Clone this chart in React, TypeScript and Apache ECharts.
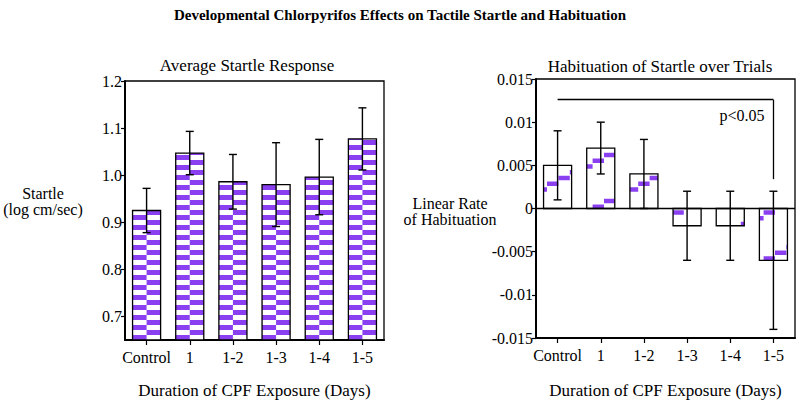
import React, { useEffect, useRef } from "react";
import * as echarts from "echarts";

const categories = ["Control", "1", "1-2", "1-3", "1-4", "1-5"];
const startleMean = [0.925, 1.047, 0.986, 0.98, 0.996, 1.077];
const startleErr = [0.047, 0.046, 0.058, 0.089, 0.08, 0.066];
const startleTicks = [0.7, 0.8, 0.9, 1.0, 1.1, 1.2];
const habitMean = [0.005, 0.007, 0.004, -0.002, -0.002, -0.006];
const habitErr = [0.004, 0.003, 0.004, 0.004, 0.004, 0.008];
const sigBracket = { from: "Control", to: "1-5", y: 0.0126, drop: 0.0034, label: "p<0.05" };

const PURPLE = "#8a3ff0";
const FONT = "Liberation Serif, Times New Roman, DejaVu Serif, serif";

function rowsData(mean: number[], err: number[]) {
  return mean.map((m, i) => [i, m, m - err[i], m + err[i]]);
}

function errChildren(api: any, x: number) {
  const lo = api.coord([x, api.value(2)]);
  const hi = api.coord([x, api.value(3)]);
  const cap = 4;
  const style = { stroke: "#000", lineWidth: 1.4 };
  return [
    { type: "line", shape: { x1: hi[0], y1: hi[1], x2: lo[0], y2: lo[1] }, style },
    { type: "line", shape: { x1: hi[0] - cap, y1: hi[1], x2: hi[0] + cap, y2: hi[1] }, style },
    { type: "line", shape: { x1: lo[0] - cap, y1: lo[1], x2: lo[0] + cap, y2: lo[1] }, style },
  ];
}

// left chart: checkerboard bars from the bottom of the plot
function startleRender(params: any, api: any) {
  const cs = params.coordSys;
  const i = api.value(0);
  const top = api.coord([i, api.value(1)]);
  const w = api.size([1, 0])[0] * 0.65;
  const xL = top[0] - w / 2;
  const yT = top[1];
  const yB = cs.y + cs.height;
  const children: any[] = [
    { type: "rect", shape: { x: xL, y: yT, width: w, height: yB - yT }, style: { fill: "#fff" } },
  ];
  const rowH = 5;
  const colW = w / 2;
  for (let r = 0; yB - r * rowH > yT; r++) {
    const y2 = yB - r * rowH;
    const y1 = Math.max(yT, y2 - rowH);
    const col = r % 2;
    children.push({
      type: "rect",
      shape: { x: xL + col * colW, y: y1, width: colW, height: y2 - y1 },
      style: { fill: PURPLE },
    });
  }
  children.push({
    type: "rect",
    shape: { x: xL, y: yT, width: w, height: yB - yT },
    style: { fill: "none", stroke: "#000", lineWidth: 1.3 },
  });
  children.push(...errChildren(api, i));
  return { type: "group", children };
}

// right chart: sparse staircase texture, bars from zero
function habitRender(params: any, api: any) {
  const cs = params.coordSys;
  const i = api.value(0);
  const top = api.coord([i, api.value(1)]);
  const zero = api.coord([i, 0]);
  const w = api.size([1, 0])[0] * 0.65;
  const xL = top[0] - w / 2;
  const xR = xL + w;
  const yT = Math.min(top[1], zero[1]);
  const yB = Math.max(top[1], zero[1]);
  const children: any[] = [
    { type: "rect", shape: { x: xL, y: yT, width: w, height: yB - yT }, style: { fill: "#fff" } },
  ];
  const colW = 11.4;
  const rise = 5.75;
  const period = 46;
  const ph = 4.5;
  const ax = cs.x + 11;
  const ay = zero[1] - 27;
  const c0 = Math.floor((xL - ax) / colW);
  const c1 = Math.floor((xR - ax) / colW);
  for (let c = c0; c <= c1; c++) {
    const px1 = Math.max(xL, ax + c * colW);
    const px2 = Math.min(xR, ax + (c + 1) * colW);
    if (px2 <= px1) continue;
    const yp = ay - rise * c;
    const k0 = Math.floor((yT - yp - ph) / period);
    const k1 = Math.ceil((yB - yp) / period);
    for (let k = k0; k <= k1; k++) {
      const py1 = Math.max(yT, yp + k * period);
      const py2 = Math.min(yB, yp + k * period + ph);
      if (py2 <= py1) continue;
      children.push({
        type: "rect",
        shape: { x: px1, y: py1, width: px2 - px1, height: py2 - py1 },
        style: { fill: PURPLE },
      });
    }
  }
  children.push({
    type: "rect",
    shape: { x: xL, y: yT, width: w, height: yB - yT },
    style: { fill: "none", stroke: "#000", lineWidth: 1.3 },
  });
  children.push(...errChildren(api, i));
  return { type: "group", children };
}

export default function App() {
  const ref = useRef<HTMLDivElement>(null);
  useEffect(() => {
    document.body.style.margin = "0";
    const chart = echarts.init(ref.current!, undefined, { renderer: "svg" });
    const axisText = { color: "#000", fontFamily: FONT, fontSize: 16 };
    const xAxisCommon = (gridIndex: number, gap: number) => ({
      type: "category",
      gridIndex,
      data: categories,
      position: "bottom",
      axisLine: { onZero: false, lineStyle: { color: "#000", width: 2 } },
      axisTick: { show: true, alignWithLabel: true, length: 5, lineStyle: { color: "#000", width: 1.2 } },
      axisLabel: { ...axisText, margin: 9, interval: 0 },
      name: "Duration of CPF Exposure (Days)",
      nameLocation: "middle",
      nameGap: gap,
      nameTextStyle: { color: "#000", fontFamily: FONT, fontSize: 17 },
    });
    const txt = (x: number, y: number, text: string, font: string) => ({
      type: "text",
      x,
      y,
      style: { text, font, fill: "#000", textAlign: "center", textVerticalAlign: "middle" },
    });
    const gridCommon = {
      width: 259,
      height: 259,
      show: true,
      borderColor: "#000",
      borderWidth: 1.3,
      backgroundColor: "transparent",
      containLabel: false,
      outerBoundsMode: "none",
    };
    chart.setOption({
      animation: false,
      backgroundColor: "#fff",
      grid: [
        { ...gridCommon, left: 125, top: 81 },
        { ...gridCommon, left: 536, top: 79 },
      ],
      xAxis: [xAxisCommon(0, 42), xAxisCommon(1, 44)],
      yAxis: [
        {
          type: "value",
          gridIndex: 0,
          min: 0.65,
          max: 1.2,
          splitLine: { show: false },
          axisLine: { show: true, lineStyle: { color: "#000", width: 2 } },
          axisTick: { show: true, length: 4, lineStyle: { color: "#000", width: 1.2 }, customValues: startleTicks },
          axisLabel: { ...axisText, margin: 3, customValues: startleTicks, formatter: (v: number) => v.toFixed(1) },
        },
        {
          type: "value",
          gridIndex: 1,
          min: -0.015,
          max: 0.015,
          interval: 0.005,
          splitLine: { show: false },
          axisLine: { show: true, lineStyle: { color: "#000", width: 2 } },
          axisTick: { show: true, length: 4, lineStyle: { color: "#000", width: 1.2 } },
          axisLabel: { ...axisText, margin: 3, formatter: (v: number) => String(parseFloat(v.toFixed(3))) },
        },
      ],
      series: [
        {
          type: "custom",
          xAxisIndex: 0,
          yAxisIndex: 0,
          data: rowsData(startleMean, startleErr),
          encode: { x: 0, y: [1, 2, 3] },
          renderItem: startleRender,
        },
        {
          type: "custom",
          xAxisIndex: 1,
          yAxisIndex: 1,
          data: rowsData(habitMean, habitErr),
          encode: { x: 0, y: [1, 2, 3] },
          renderItem: habitRender,
        },
        {
          type: "line",
          xAxisIndex: 1,
          yAxisIndex: 1,
          data: [],
          markLine: {
            silent: true,
            symbol: "none",
            label: { show: false },
            lineStyle: { color: "#000", width: 1.3, type: "solid" },
            data: [
              { yAxis: 0 },
              [{ coord: [sigBracket.from, sigBracket.y] }, { coord: [sigBracket.to, sigBracket.y] }],
              [{ coord: [sigBracket.to, sigBracket.y] }, { coord: [sigBracket.to, sigBracket.drop] }],
            ],
          },
        },
      ],
      graphic: [
        txt(400, 15, "Developmental Chlorpyrifos Effects on Tactile Startle and Habituation", `bold 15px ${FONT}`),
        txt(247, 65, "Average Startle Response", `17px ${FONT}`),
        txt(660, 66, "Habituation of Startle over Trials", `17px ${FONT}`),
        txt(43, 193, "Startle", `16px ${FONT}`),
        txt(43, 209, "(log cm/sec)", `16px ${FONT}`),
        txt(450, 203, "Linear Rate", `16px ${FONT}`),
        txt(450, 219, "of Habituation", `16px ${FONT}`),
        txt(742, 115, sigBracket.label, `16px ${FONT}`),
      ],
    });
    return () => chart.dispose();
  }, []);
  return <div ref={ref} style={{ width: 800, height: 402 }} />;
}
